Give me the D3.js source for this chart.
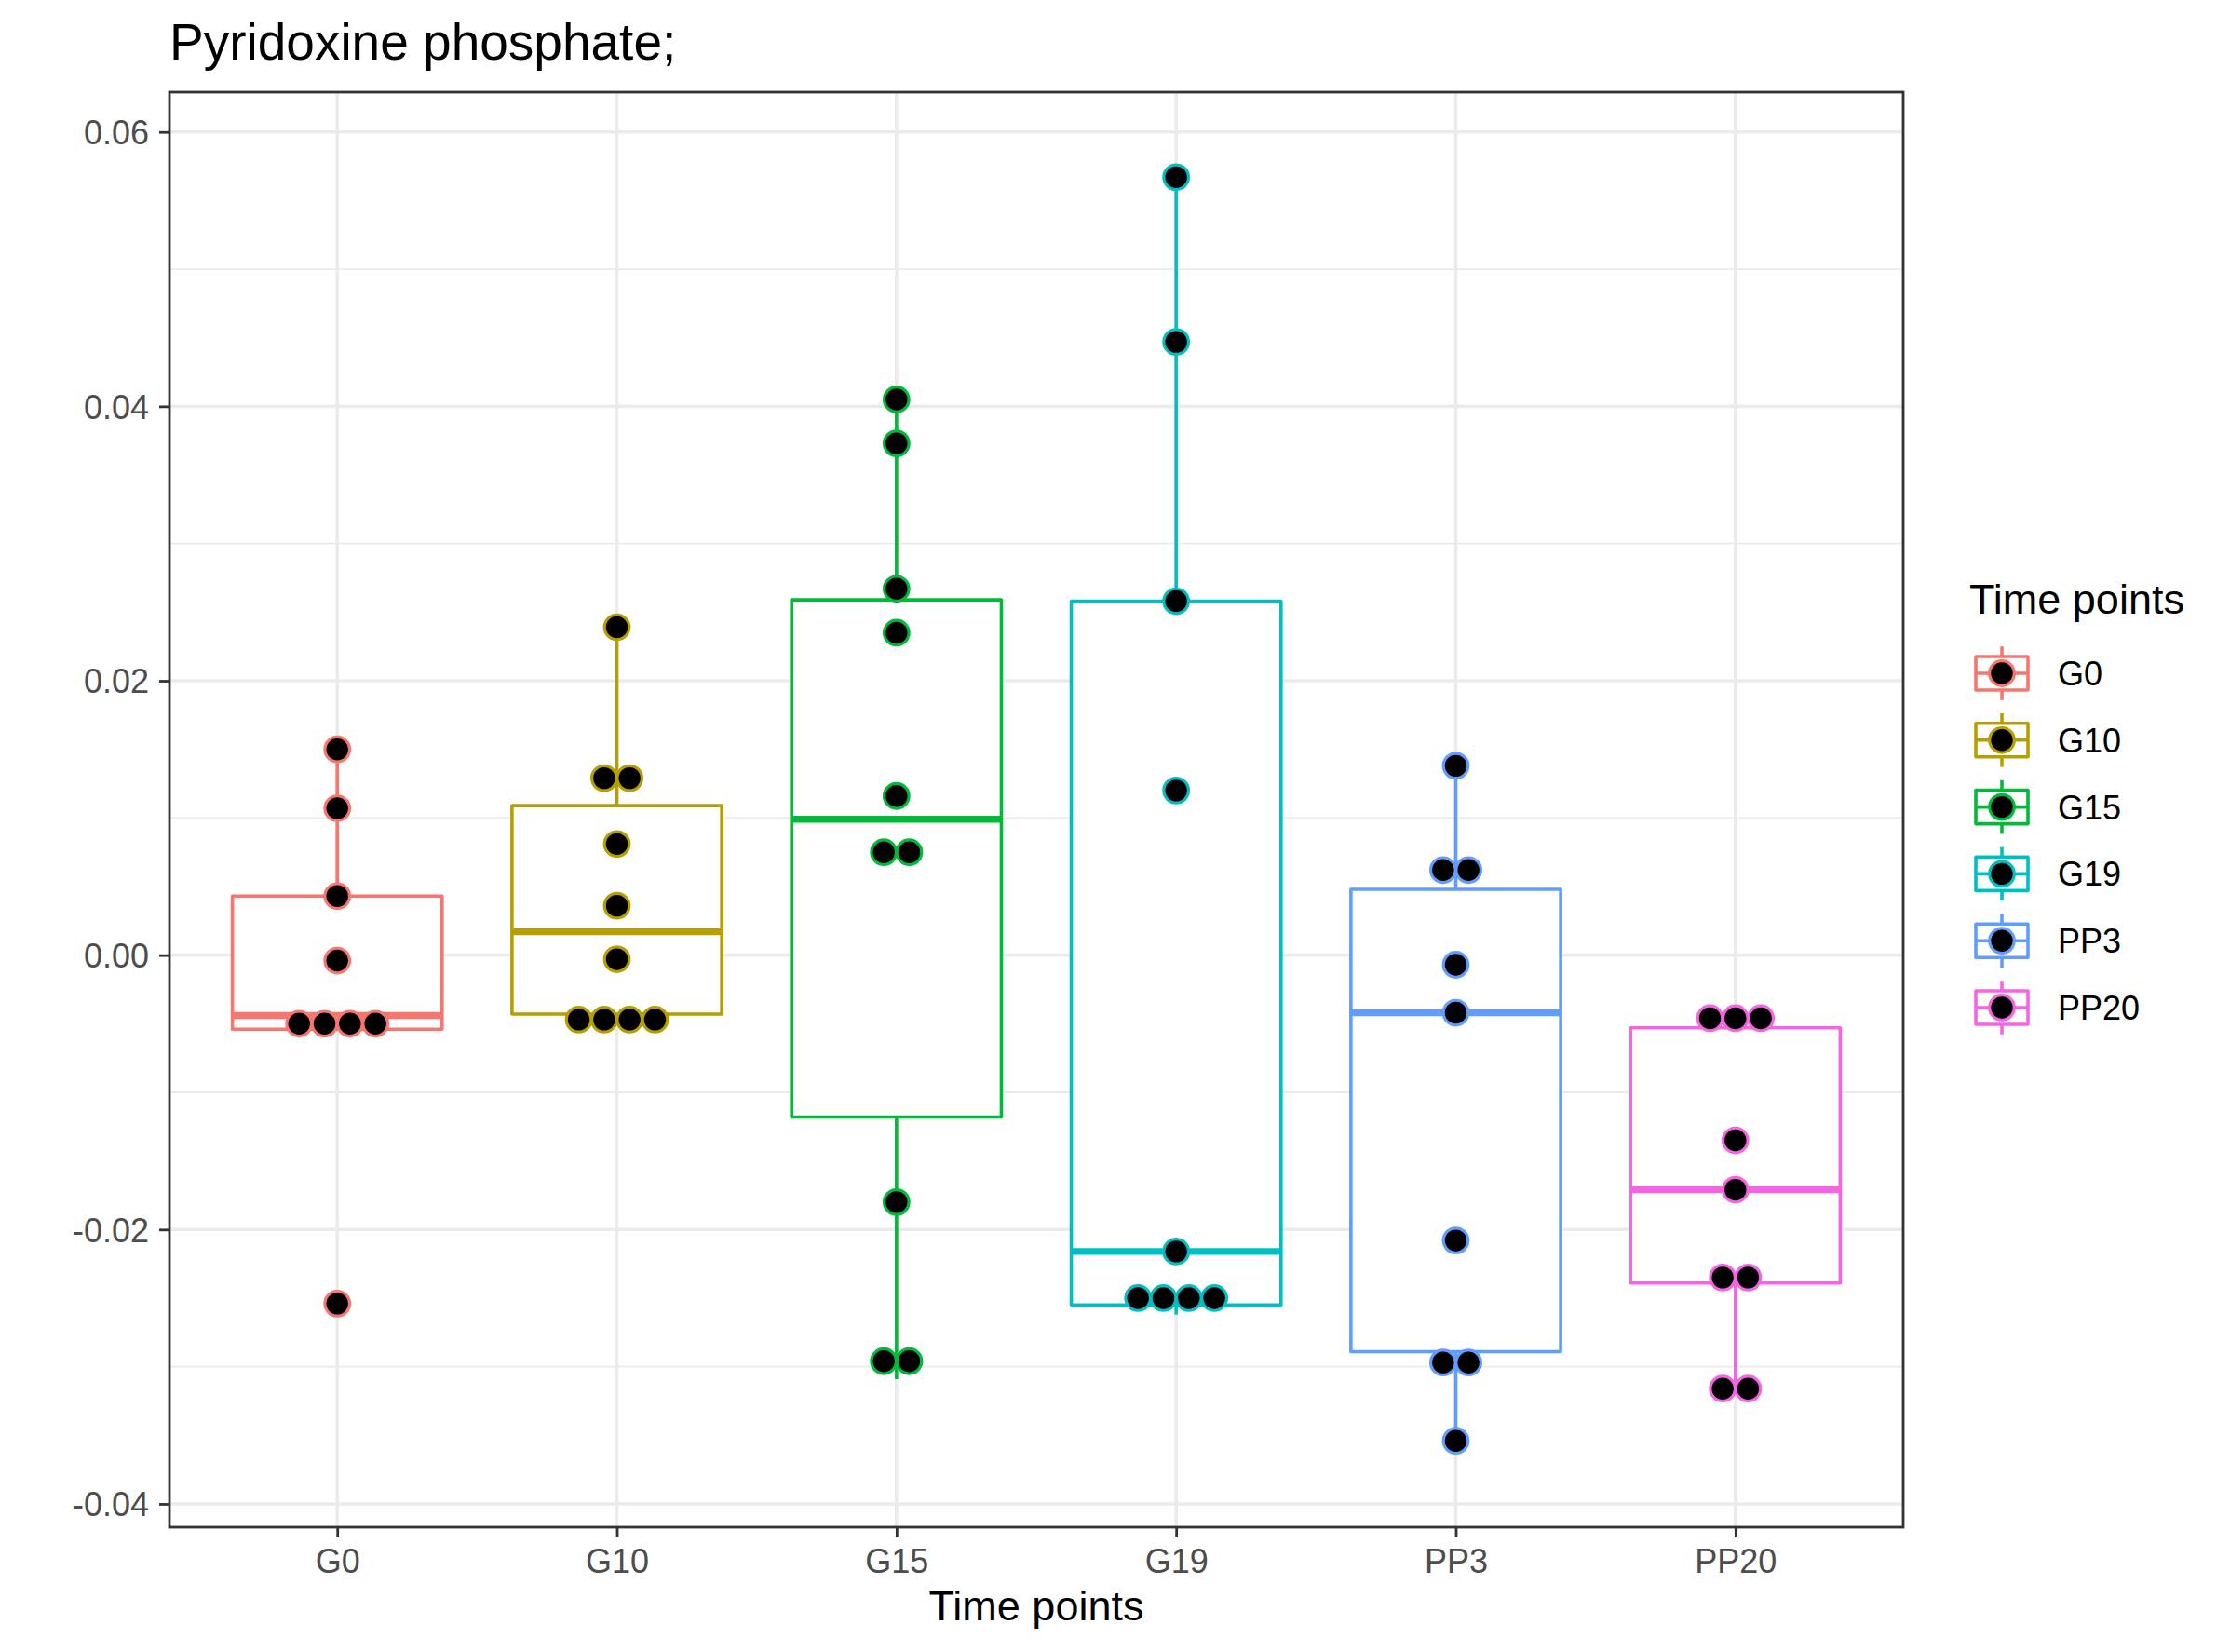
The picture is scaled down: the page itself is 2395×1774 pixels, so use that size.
<!DOCTYPE html>
<html lang='en'>
<head>
<meta charset='UTF-8'>
<script src='https://d3js.org/d3.v7.min.js'></script>
<title>Pyridoxine phosphate</title>
<style>
  body { margin: 0; background: #fff; }
  text { font-family: 'Liberation Sans', Arial, Helvetica, sans-serif; }
</style>
</head>
<body>
<svg id='chart' width='2395' height='1774'></svg>
<script>
// categories + colours (ggplot default hue palette)
const categories = ['G0', 'G10', 'G15', 'G19', 'PP3', 'PP20']
const colors = ['#F8766D', '#B79F00', '#00BA38', '#00BFC4', '#619CFF', '#F564E3']

// box stats
const boxLower  = [-0.0054, -0.0043, -0.0309, -0.0262, -0.0354, -0.0316]
const boxQ1     = [-0.0054, -0.0043, -0.0118, -0.0255, -0.0289, -0.0239]
const boxMedian = [-0.0044,  0.0017,  0.0099, -0.0216, -0.0042, -0.0171]
const boxQ3     = [ 0.0043,  0.0109,  0.0259,  0.0258,  0.0048, -0.0053]
const boxUpper  = [ 0.0150,  0.0239,  0.0406,  0.0567,  0.0138, -0.0053]

// dot positions (binned, equal values get stacked side by side)
const dotsG0   = [0.0150, 0.0107, 0.0043, -0.0004, -0.0050, -0.0050, -0.0050, -0.0050, -0.0254]
const dotsG10  = [0.0239, 0.0129, 0.0129, 0.0081, 0.0036, -0.0003, -0.0047, -0.0047, -0.0047, -0.0047]
const dotsG15  = [0.0405, 0.0373, 0.0267, 0.0235, 0.0116, 0.0075, 0.0075, -0.0180, -0.0296, -0.0296]
const dotsG19  = [0.0567, 0.0447, 0.0258, 0.0120, -0.0216, -0.0250, -0.0250, -0.0250, -0.0250]
const dotsPP3  = [0.0138, 0.0062, 0.0062, -0.0007, -0.0042, -0.0208, -0.0297, -0.0297, -0.0354]
const dotsPP20 = [-0.0046, -0.0046, -0.0046, -0.0135, -0.0171, -0.0235, -0.0235, -0.0316, -0.0316]
const dotValues = [dotsG0, dotsG10, dotsG15, dotsG19, dotsPP3, dotsPP20]

const yTicks = [-0.04, -0.02, 0, 0.02, 0.04, 0.06]
const yMinor = [-0.03, -0.01, 0.01, 0.03, 0.05]

const panel = {left: 182, right: 2044, top: 99, bottom: 1640}
const svg = d3.select('#chart')

let x = d3.scalePoint().domain(categories).range([panel.left, panel.right]).padding(0.6)
let y = d3.scaleLinear().domain([-0.0417, 0.0629]).range([panel.bottom, panel.top])
let color = d3.scaleOrdinal().domain(categories).range(colors)
let boxW = x.step() * 0.75
let dotStep = 27.3   // stacking distance
let dotR = 13.3      // dot radius (stroke drawn on top)

// panel bg + grid
svg.append('rect').attr('x', panel.left).attr('y', panel.top)
  .attr('width', panel.right - panel.left).attr('height', panel.bottom - panel.top)
  .attr('fill', '#fff')

svg.selectAll('.minor').data(yMinor).enter().append('line')
  .attr('x1', panel.left).attr('x2', panel.right)
  .attr('y1', d => y(d)).attr('y2', d => y(d))
  .attr('stroke', '#EBEBEB').attr('stroke-width', 1.8)

svg.selectAll('.majory').data(yTicks).enter().append('line')
  .attr('x1', panel.left).attr('x2', panel.right)
  .attr('y1', d => y(d)).attr('y2', d => y(d))
  .attr('stroke', '#EBEBEB').attr('stroke-width', 3.6)

svg.selectAll('.majorx').data(categories).enter().append('line')
  .attr('x1', d => x(d)).attr('x2', d => x(d))
  .attr('y1', panel.top).attr('y2', panel.bottom)
  .attr('stroke', '#EBEBEB').attr('stroke-width', 3.6)

// boxplots
let boxes = svg.selectAll('.box').data(categories).enter().append('g')
  .attr('transform', d => `translate(${x(d)},0)`)

boxes.append('line') // upper whisker
  .attr('y1', (d, i) => y(boxQ3[i])).attr('y2', (d, i) => y(boxUpper[i]))
  .attr('stroke', d => color(d)).attr('stroke-width', 3.6)
boxes.append('line') // lower whisker
  .attr('y1', (d, i) => y(boxQ1[i])).attr('y2', (d, i) => y(boxLower[i]))
  .attr('stroke', d => color(d)).attr('stroke-width', 3.6)
boxes.append('rect')
  .attr('x', -boxW / 2).attr('width', boxW)
  .attr('y', (d, i) => y(boxQ3[i]))
  .attr('height', (d, i) => y(boxQ1[i]) - y(boxQ3[i]))
  .attr('fill', '#fff').attr('stroke', d => color(d)).attr('stroke-width', 3.6)
  .attr('stroke-linejoin', 'round')
boxes.append('line') // median
  .attr('x1', -boxW / 2).attr('x2', boxW / 2)
  .attr('y1', (d, i) => y(boxMedian[i])).attr('y2', (d, i) => y(boxMedian[i]))
  .attr('stroke', d => color(d)).attr('stroke-width', 7.4)

// dots, stacked centred
categories.forEach((cat, i) => {
  let counts = d3.rollup(dotValues[i], v => v.length, v => v)
  let seen = new Map()
  let pts = dotValues[i].map(v => {
    let k = counts.get(v), j = seen.get(v) || 0
    seen.set(v, j + 1)
    return {v: v, off: (j - (k - 1) / 2) * dotStep}
  })
  svg.selectAll('.dot' + i).data(pts).enter().append('circle')
    .attr('cx', d => x(cat) + d.off)
    .attr('cy', d => y(d.v))
    .attr('r', dotR)
    .attr('fill', '#000')
    .attr('stroke', color(cat)).attr('stroke-width', 3.2)
})

// border
svg.append('rect').attr('x', panel.left).attr('y', panel.top)
  .attr('width', panel.right - panel.left).attr('height', panel.bottom - panel.top)
  .attr('fill', 'none').attr('stroke', '#333333').attr('stroke-width', 2.8)

// axes
let yAxis = svg.append('g').attr('transform', `translate(${panel.left},0)`)
  .call(d3.axisLeft(y).tickValues(yTicks).tickSize(11).tickPadding(11)
    .tickFormat(d => d3.format('.2f')(d).replace('\u2212', '-')))
yAxis.select('.domain').remove()
yAxis.selectAll('line').attr('stroke', '#333333').attr('stroke-width', 2.8)
yAxis.selectAll('text').attr('fill', '#4D4D4D').style('font-size', '36px')
  .attr('dy', '0.36em')

let xAxis = svg.append('g').attr('transform', `translate(0,${panel.bottom})`)
  .call(d3.axisBottom(x).tickSize(11).tickPadding(12))
xAxis.select('.domain').remove()
xAxis.selectAll('line').attr('stroke', '#333333').attr('stroke-width', 2.8)
xAxis.selectAll('text').attr('fill', '#4D4D4D').style('font-size', '36px')
  .attr('dy', '0.72em')

// titles
svg.append('text').attr('x', panel.left).attr('y', 64)
  .style('font-size', '55px').attr('fill', '#000')
  .text('Pyridoxine phosphate;')

svg.append('text').attr('x', (panel.left + panel.right) / 2).attr('y', 1740)
  .attr('text-anchor', 'middle').style('font-size', '45px').attr('fill', '#000')
  .text('Time points')

// legend
let legend = svg.append('g').attr('transform', 'translate(2115,0)')
legend.append('text').attr('x', 0).attr('y', 659)
  .style('font-size', '45px').attr('fill', '#000').text('Time points')

let keys = legend.selectAll('.key').data(categories).enter().append('g')
  .attr('transform', (d, i) => `translate(35,${723 + i * 71.8})`)
keys.append('line').attr('y1', -28.8).attr('y2', 28.8)
  .attr('stroke', d => color(d)).attr('stroke-width', 3.6)
keys.append('rect').attr('x', -28).attr('y', -18).attr('width', 56).attr('height', 36)
  .attr('fill', '#fff').attr('stroke', d => color(d)).attr('stroke-width', 3.6)
  .attr('stroke-linejoin', 'round')
keys.append('line').attr('x1', -28).attr('x2', 28)
  .attr('stroke', d => color(d)).attr('stroke-width', 3.6)
keys.append('circle').attr('r', dotR)
  .attr('fill', '#000').attr('stroke', d => color(d)).attr('stroke-width', 3.2)
keys.append('text').attr('x', 60).attr('y', 13)
  .style('font-size', '36px').attr('fill', '#000').text(d => d)
</script>
</body>
</html>
